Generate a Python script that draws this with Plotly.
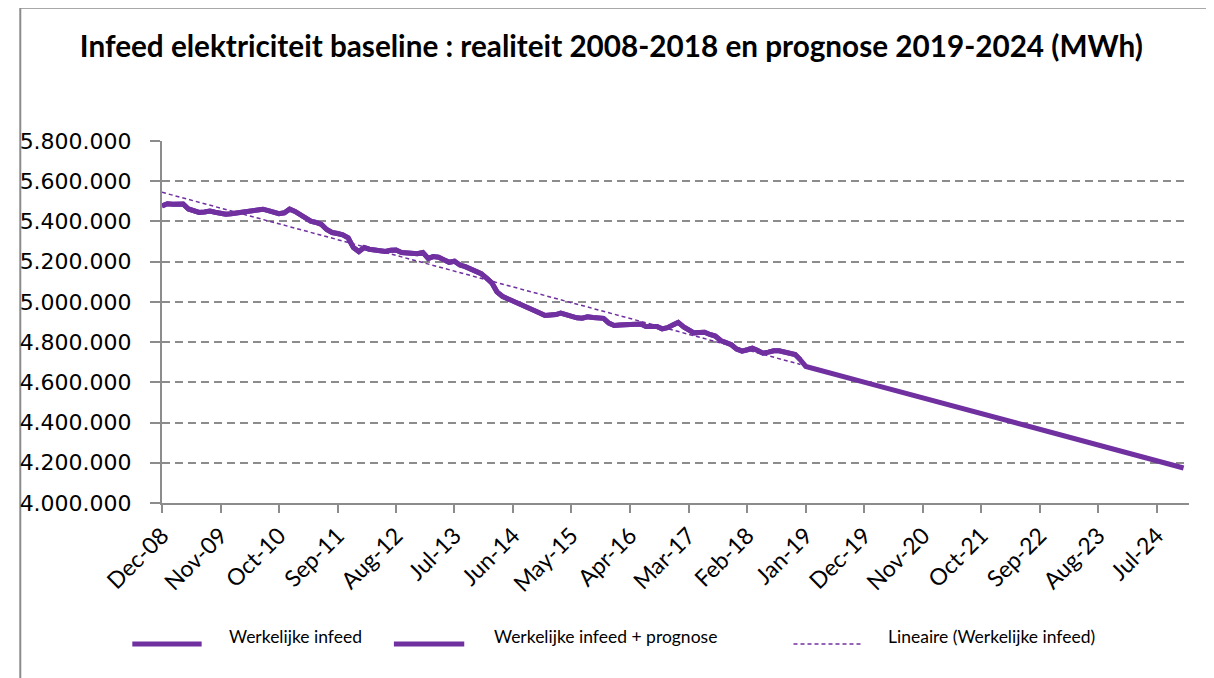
import pandas as pd
import plotly.graph_objects as go

# Monthly realised infeed (MWh), Dec-08 .. Dec-18
REALIZED_DATES = pd.date_range("2008-12-01", "2018-12-01", freq="MS")
REALIZED = [
    5477000, 5488000, 5486000, 5484000, 5487000, 5462000, 5450000, 5445000, 5447000, 5452000,
    5446000, 5440000, 5436000, 5438000, 5442000, 5447000, 5450000, 5453000, 5457000, 5461000,
    5454000, 5445000, 5439000, 5443000, 5461000, 5450000, 5432000, 5415000, 5401000, 5395000,
    5385000, 5360000, 5345000, 5340000, 5333000, 5318000, 5270000, 5250000, 5270000, 5262000,
    5258000, 5255000, 5251000, 5257000, 5258000, 5246000, 5245000, 5245000, 5240000, 5246000,
    5216000, 5225000, 5222000, 5210000, 5197000, 5202000, 5183000, 5175000, 5163000, 5150000,
    5140000, 5118000, 5093000, 5050000, 5028000, 5016000, 5005000, 4993000, 4980000, 4969000,
    4960000, 4945000, 4932000, 4933000, 4937000, 4944000, 4935000, 4925000, 4921000, 4919000,
    4926000, 4922000, 4920000, 4918000, 4895000, 4883000, 4885000, 4886000, 4889000, 4892000,
    4890000, 4878000, 4879000, 4878000, 4866000, 4872000, 4885000, 4898000, 4876000, 4860000,
    4846000, 4848000, 4849000, 4838000, 4830000, 4808000, 4797000, 4787000, 4765000, 4755000,
    4762000, 4770000, 4758000, 4745000, 4750000, 4757000, 4757000, 4752000, 4748000, 4738000,
    4712000,
]

# Prognosis points 2019-2024 (MWh)
FORECAST_DATES = ["2019-01-01", "2020-01-01", "2021-01-01", "2022-01-01",
                  "2023-01-01", "2024-01-01", "2024-12-01"]
FORECAST = [4679000, 4594000, 4509000, 4423000, 4338000, 4252000, 4174000]

# Linear trend of the realised infeed (end points)
TREND_DATES = ["2008-12-01", "2018-12-01"]
TREND = [5545000, 4689000]

Y_TICKS = [4000000, 4200000, 4400000, 4600000, 4800000, 5000000, 5200000, 5400000, 5600000, 5800000]
Y_LABELS = [f"{v:,}".replace(",", ".") for v in Y_TICKS]

LEGEND_NAMES = ["Werkelijke infeed", "Werkelijke infeed + prognose", "Lineaire (Werkelijke infeed)"]

PURPLE = "#7030A0"
GREY = "#8c8c8c"

fig = go.Figure()

fig.add_trace(go.Scatter(
    x=list(REALIZED_DATES) + [pd.Timestamp(d) for d in FORECAST_DATES],
    y=REALIZED + FORECAST,
    mode="lines", name=LEGEND_NAMES[1],
    line=dict(color=PURPLE, width=5), showlegend=False,
))
fig.add_trace(go.Scatter(
    x=REALIZED_DATES, y=REALIZED, mode="lines", name=LEGEND_NAMES[0],
    line=dict(color=PURPLE, width=5), showlegend=False,
))
fig.add_trace(go.Scatter(
    x=TREND_DATES, y=TREND, mode="lines", name=LEGEND_NAMES[2],
    line=dict(color=PURPLE, width=1.5, dash="4px,3px"), showlegend=False,
))

fig.update_layout(
    width=1214, height=678, autosize=False,
    margin=dict(l=145, r=33, t=133, b=183),
    plot_bgcolor="white", paper_bgcolor="white",
    title=dict(
        text="<b>Infeed elektriciteit baseline : realiteit 2008-2018 en prognose 2019-2024 (MWh)</b>",
        font=dict(family="Lato", size=29.7, color="black"),
        x=0.497, xanchor="center", y=1 - 39 / 678, yanchor="middle", yref="container",
    ),
)

fig.update_xaxes(
    type="date", range=["2008-12-01", "2025-01-01"],
    tick0="2008-12-01", dtick="M11", tickformat="%b-%y", tickangle=-45,
    tickfont=dict(family="Lato", size=23, color="black"),
    showgrid=False, zeroline=False,
    showline=True, linecolor=GREY, linewidth=2,
    ticks="outside", ticklen=8, tickcolor=GREY, tickwidth=2,
)
fig.update_yaxes(
    range=[4000000, 5800000], tickvals=Y_TICKS, ticktext=Y_LABELS,
    tickfont=dict(family="DejaVu Sans", size=22, color="black"),
    showgrid=True, gridcolor=GREY, gridwidth=1.5, griddash="8px,5px",
    zeroline=False, showline=True, linecolor=GREY, linewidth=2,
    ticks="outside", ticklen=10, tickcolor=GREY, tickwidth=2,
    ticklabelstandoff=14,
)

# outer chart border (left and top edges visible)
fig.add_shape(type="rect", xref="paper", yref="paper",
              x0=-0.138, x1=1.2, y0=-0.55, y1=1.368,
              line=dict(color=GREY, width=2), layer="below")

# manual legend (long line samples like the original)
leg_y_line = (503 - 644) / 362
leg_y_text = (503 - 636) / 362
samples = [(-0.0289, 0.0386, 0.0637, 5, "solid"),
           (0.2258, 0.2943, 0.3214, 5, "solid"),
           (0.6149, 0.6824, 0.7046, 1.5, "4px,3px")]
for (x0, x1, xt, w, dash), name in zip(samples, LEGEND_NAMES):
    fig.add_shape(type="line", xref="paper", yref="paper",
                  x0=x0, x1=x1, y0=leg_y_line, y1=leg_y_line,
                  line=dict(color=PURPLE, width=w, dash=dash))
    fig.add_annotation(xref="paper", yref="paper", x=xt, y=leg_y_text,
                       text=name, showarrow=False, xanchor="left", yanchor="middle",
                       font=dict(family="Lato", size=17.5, color="black"))

fig.write_html("out.html")
